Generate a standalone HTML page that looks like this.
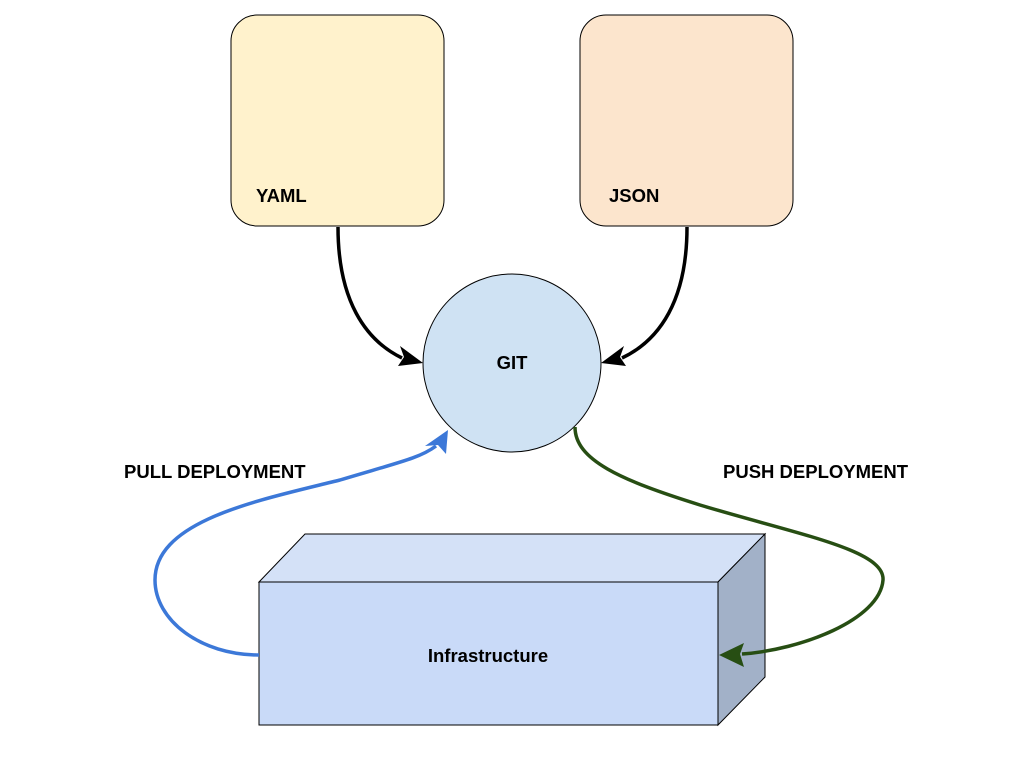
<!DOCTYPE html>
<html><head><style>body{margin:0;background:#fff}svg{display:block}text{font-family:"Liberation Sans",Arial,sans-serif;font-weight:bold;font-size:18.5px;fill:#000}</style></head>
<body>
<svg width="1024" height="768" viewBox="0 0 1024 768">
<rect x="231" y="15" width="213" height="211" rx="26" fill="#fff2cc" stroke="#000"/>
<rect x="580" y="15" width="213" height="211" rx="26" fill="#fce5cd" stroke="#000"/>
<text x="256" y="202">YAML</text>
<text x="609" y="202">JSON</text>
<ellipse cx="512" cy="363" rx="89" ry="89" fill="#cfe2f3" stroke="#000"/>
<text x="512" y="369" text-anchor="middle">GIT</text>
<path d="M338,227 C338,300 365,340 402,358" fill="none" stroke="#000" stroke-width="3.5"/>
<polygon points="423,363 398,366 404,357 400,346" fill="#000"/>
<path d="M687,227 C687,300 660,340 622,358" fill="none" stroke="#000" stroke-width="3.5"/>
<polygon points="601,363 626,366 620,357 624,346" fill="#000"/>
<polygon points="259,582 305,534 765,534 718,582" fill="#d4e1f7" stroke="#000"/>
<polygon points="718,582 765,534 765,677 718,725" fill="#a2b1c8" stroke="#000"/>
<rect x="259" y="582" width="459" height="143" fill="#c9daf8" stroke="#000"/>
<text x="488" y="662" text-anchor="middle">Infrastructure</text>
<path d="M259,655 C200,655 155,620 155,580 C155,520 260,500 340,480 C400,462 420,458 436,446" fill="none" stroke="#3c78d8" stroke-width="3.5"/>
<polygon points="448,430 446,454 438,445 425,446" fill="#3c78d8"/>
<path d="M575,427 C575,460 620,480 700,505 C800,535 885,550 883,580 C880,620 800,650 742,654" fill="none" stroke="#274e13" stroke-width="3.5"/>
<polygon points="719,655 744,643 740,654 744,667" fill="#274e13"/>
<text x="124" y="478">PULL DEPLOYMENT</text>
<text x="723" y="478">PUSH DEPLOYMENT</text>
</svg>
</body></html>
